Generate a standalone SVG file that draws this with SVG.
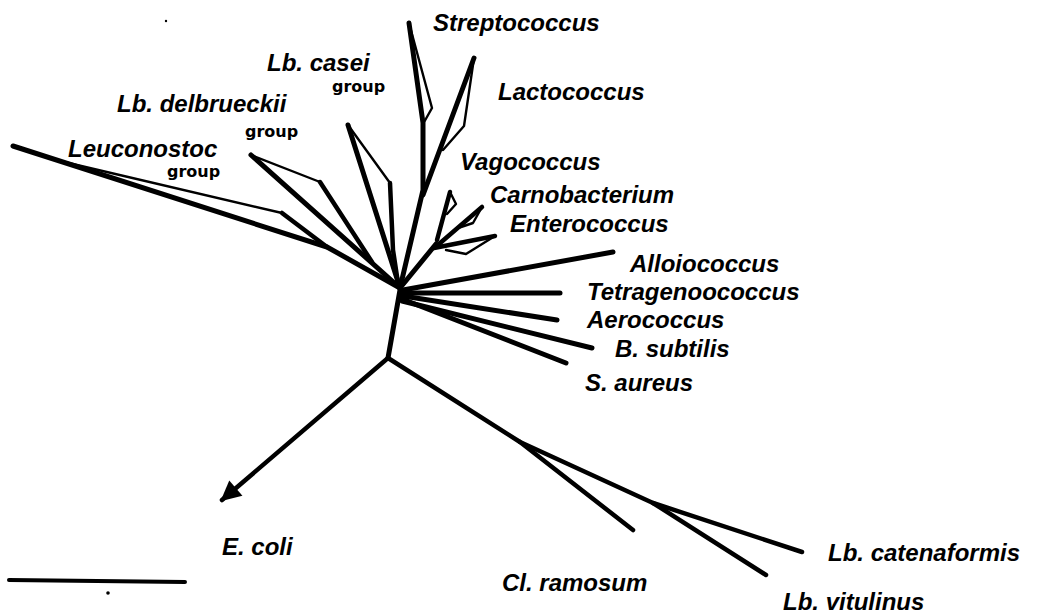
<svg xmlns="http://www.w3.org/2000/svg" width="1038" height="616" viewBox="0 0 1038 616">
<style>
  .lbl { font-family: "Liberation Sans", Arial, sans-serif; font-weight: bold; font-style: italic; font-size: 24px; fill: #000; }
  .grp { font-family: "DejaVu Sans", sans-serif; font-weight: bold; font-size: 16px; fill: #000; }
  .thick { fill: none; stroke: #000; stroke-width: 5; stroke-linecap: round; stroke-linejoin: round; }
  .mid { fill: none; stroke: #000; stroke-width: 4.5; stroke-linecap: round; stroke-linejoin: round; }
  .thin { fill: none; stroke: #000; stroke-width: 2.4; stroke-linecap: round; stroke-linejoin: round; }
</style>
<defs>
  <marker id="arrow" viewBox="0 0 10 10" refX="9" refY="5" markerWidth="5.5" markerHeight="4.5" orient="auto" markerUnits="strokeWidth">
    <path d="M0,0 L10,5 L0,10 Z" fill="#000"/>
  </marker>
</defs>
<rect width="1038" height="616" fill="#fff"/>

<g id="connectors">
  <!-- Leuconostoc group -->
  <polyline class="thick" points="13,146 327,247 400,288"/>
  <polyline class="thin" points="60,161 282,213"/>
  <polyline class="mid" points="282,213 327,247"/>
  <!-- Lb. delbrueckii group -->
  <polyline class="thick" points="251,155 400,288"/>
  <polyline class="thin" points="251,155 320,182"/>
  <polyline class="mid" points="320,182 372,262"/>
  <!-- Lb. casei group -->
  <polyline class="thick" points="348,125 400,288"/>
  <polyline class="thin" points="348,125 390,183"/>
  <polyline class="mid" points="390,183 393,250 398,283"/>
  <!-- Streptococcus -->
  <polyline class="thick" points="409,23 423,123 423,190 400,288"/>
  <polyline class="thin" points="409,23 432,108 423,124"/>
  <!-- Lactococcus -->
  <polyline class="thick" points="474,58 423,195"/>
  <polyline class="thin" points="474,58 464,126 443,150"/>
  <!-- Vagococcus / Carnobacterium / Enterococcus cluster -->
  <polyline class="thick" points="400,288 436,244"/>
  <polyline class="mid" points="450,192 437,240"/>
  <polyline class="thin" points="450,192 456,204 447,214"/>
  <polyline class="mid" points="482,207 439,244"/>
  <polyline class="thin" points="482,207 473,223 458,228"/>
  <polyline class="mid" points="495,236 434,248"/>
  <polyline class="thin" points="495,236 466,254 446,250"/>
  <!-- right-hand branches -->
  <line class="thick" x1="403" y1="290" x2="613" y2="252"/>
  <line class="thick" x1="403" y1="293" x2="560" y2="293"/>
  <line class="thick" x1="403" y1="296" x2="557" y2="320"/>
  <line class="thick" x1="402" y1="301" x2="592" y2="348"/>
  <line class="thick" x1="402" y1="299" x2="566" y2="363"/>
  <!-- trunk -->
  <line class="thick" x1="400" y1="290" x2="388" y2="358"/>
  <!-- E. coli -->
  <line class="mid" x1="388" y1="358" x2="222" y2="500" marker-end="url(#arrow)"/>
  <!-- Cl. ramosum and Lb. branch -->
  <polyline class="mid" points="388,358 520,442 653,503 802,552"/>
  <line class="mid" x1="520" y1="442" x2="633" y2="530"/>
  <line class="mid" x1="653" y1="503" x2="766" y2="575"/>
</g>

<g id="scale-bar">
  <line x1="9" y1="580" x2="185" y2="582" stroke="#000" stroke-width="4" stroke-linecap="round"/>
  <circle cx="108" cy="593" r="1.8" fill="#000"/>
</g>
<circle cx="166" cy="21" r="1.2" fill="#000"/>

<g id="n-streptococcus"><text class="lbl" x="433" y="31">Streptococcus</text></g>
<g id="n-lactococcus"><text class="lbl" x="498" y="100">Lactococcus</text></g>
<g id="n-vagococcus"><text class="lbl" x="460" y="170">Vagococcus</text></g>
<g id="n-carnobacterium"><text class="lbl" x="490" y="203">Carnobacterium</text></g>
<g id="n-enterococcus"><text class="lbl" x="510" y="232">Enterococcus</text></g>
<g id="n-alloiococcus"><text class="lbl" x="630" y="272">Alloiococcus</text></g>
<g id="n-tetragenoococcus"><text class="lbl" x="587" y="300">Tetragenoococcus</text></g>
<g id="n-aerococcus"><text class="lbl" x="587" y="328">Aerococcus</text></g>
<g id="n-bsubtilis"><text class="lbl" x="615" y="357">B. subtilis</text></g>
<g id="n-saureus"><text class="lbl" x="585" y="391">S. aureus</text></g>
<g id="n-ecoli"><text class="lbl" x="222" y="555">E. coli</text></g>
<g id="n-clramosum"><text class="lbl" x="502" y="591">Cl. ramosum</text></g>
<g id="n-lbcatenaformis"><text class="lbl" x="828" y="561">Lb. catenaformis</text></g>
<g id="n-lbvitulinus"><text class="lbl" x="783" y="610">Lb. vitulinus</text></g>
<g id="n-lbcasei">
  <text class="lbl" x="267" y="71">Lb. casei</text>
  <text class="grp" x="332" y="92">group</text>
</g>
<g id="n-lbdelbrueckii">
  <text class="lbl" x="117" y="112">Lb. delbrueckii</text>
  <text class="grp" x="245" y="137">group</text>
</g>
<g id="n-leuconostoc">
  <text class="lbl" x="68" y="157">Leuconostoc</text>
  <text class="grp" x="167" y="177">group</text>
</g>
</svg>
